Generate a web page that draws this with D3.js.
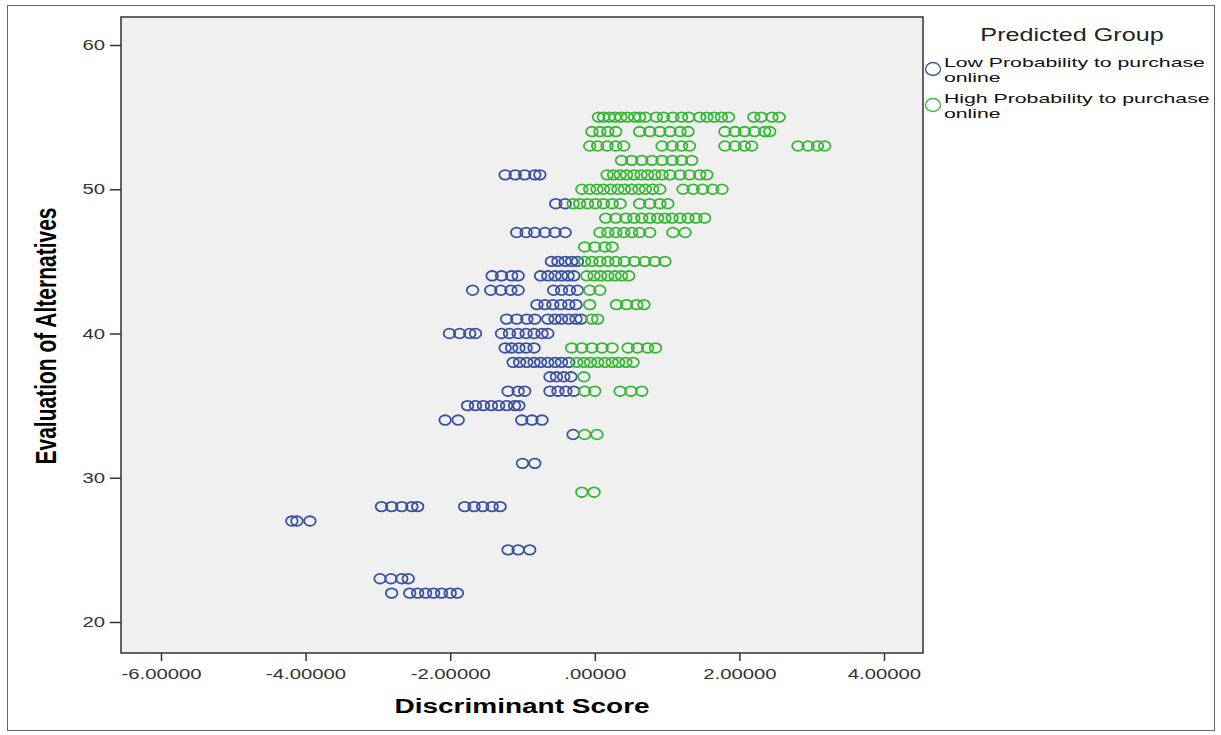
<!DOCTYPE html>
<html>
<head>
<meta charset="utf-8">
<script src="https://cdn.jsdelivr.net/npm/d3@7"></script>
<style>
  body { margin: 0; background: #fff; }
  svg { display: block; font-family: "Liberation Sans", Arial, sans-serif; }
</style>
</head>
<body>
<div id="chart"></div>
<script>
// rows of [evaluation, discriminant scores...]
const lowGroup = [
    [51, [-1.24, -1.1, -0.97, -0.83, -0.76]],
    [49, [-0.54, -0.41]],
    [47, [-1.08, -0.95, -0.83, -0.69, -0.55, -0.41]],
    [45, [-0.6, -0.51, -0.41, -0.32, -0.24]],
    [44, [-1.42, -1.29, -1.15, -1.06, -0.75, -0.65, -0.55, -0.46, -0.37, -0.29]],
    [43, [-1.69, -1.44, -1.3, -1.16, -1.06, -0.57, -0.46, -0.35, -0.24]],
    [42, [-0.8, -0.69, -0.58, -0.47, -0.36, -0.26]],
    [41, [-1.22, -1.08, -0.94, -0.83, -0.65, -0.55, -0.46, -0.36, -0.26, -0.19]],
    [40, [-2.01, -1.87, -1.73, -1.65, -1.29, -1.18, -1.06, -0.95, -0.84, -0.73, -0.65]],
    [39, [-1.24, -1.15, -1.05, -0.95, -0.84]],
    [38, [-1.13, -1.04, -0.94, -0.84, -0.75, -0.65, -0.55, -0.46, -0.36]],
    [37, [-0.62, -0.53, -0.43, -0.33]],
    [36, [-1.2, -1.06, -0.97, -0.62, -0.51, -0.4, -0.29]],
    [35, [-1.76, -1.65, -1.54, -1.43, -1.33, -1.22, -1.11, -1.05]],
    [34, [-2.07, -1.89, -1.01, -0.87, -0.73]],
    [33, [-0.3]],
    [31, [-1.0, -0.83]],
    [28, [-2.95, -2.81, -2.67, -2.53, -2.45, -1.8, -1.67, -1.55, -1.42, -1.31]],
    [27, [-4.19, -4.12, -3.94]],
    [25, [-1.2, -1.06, -0.9]],
    [23, [-2.97, -2.82, -2.67, -2.58]],
    [22, [-2.81, -2.56, -2.45, -2.34, -2.23, -2.12, -2.0, -1.9]]
];

const highGroup = [
    [55, [0.05, 0.12, 0.2, 0.28, 0.36, 0.45, 0.55, 0.62, 0.7, 0.85, 0.95, 1.08, 1.2, 1.3, 1.45, 1.55, 1.65, 1.75, 1.85, 2.2, 2.3, 2.45, 2.55]],
    [54, [-0.04, 0.07, 0.18, 0.29, 0.62, 0.76, 0.9, 1.04, 1.18, 1.29, 1.8, 1.94, 2.07, 2.21, 2.35, 2.42]],
    [53, [-0.07, 0.04, 0.17, 0.29, 0.4, 0.93, 1.07, 1.2, 1.31, 1.8, 1.94, 2.07, 2.17, 2.81, 2.95, 3.08, 3.18]],
    [52, [0.37, 0.51, 0.65, 0.79, 0.93, 1.07, 1.2, 1.34]],
    [51, [0.17, 0.26, 0.35, 0.44, 0.54, 0.64, 0.73, 0.83, 0.93, 1.04, 1.18, 1.31, 1.45, 1.55]],
    [50, [-0.18, -0.07, 0.03, 0.12, 0.22, 0.32, 0.41, 0.51, 0.61, 0.7, 0.8, 0.9, 1.22, 1.36, 1.49, 1.63, 1.76]],
    [49, [-0.3, -0.21, -0.1, 0.01, 0.12, 0.24, 0.35, 0.62, 0.76, 0.9, 1.01]],
    [48, [0.15, 0.29, 0.43, 0.54, 0.65, 0.76, 0.87, 0.97, 1.07, 1.18, 1.29, 1.4, 1.52]],
    [47, [0.07, 0.18, 0.29, 0.4, 0.51, 0.62, 0.76, 1.08, 1.25]],
    [46, [-0.14, 0, 0.14, 0.24]],
    [45, [-0.14, -0.04, 0.07, 0.18, 0.29, 0.41, 0.55, 0.69, 0.83, 0.97]],
    [44, [-0.11, -0.01, 0.08, 0.18, 0.28, 0.37, 0.47]],
    [43, [-0.07, 0.07]],
    [42, [-0.07, 0.3, 0.44, 0.58, 0.68]],
    [41, [-0.04, 0.04]],
    [39, [-0.32, -0.18, -0.04, 0.1, 0.24, 0.46, 0.59, 0.73, 0.84]],
    [38, [-0.25, -0.15, -0.06, 0.04, 0.14, 0.24, 0.33, 0.43, 0.53]],
    [37, [-0.15]],
    [36, [-0.14, 0, 0.35, 0.5, 0.65]],
    [33, [-0.14, 0.03]],
    [29, [-0.18, -0.01]]
];

const groupNames = [["Low Probability to purchase", "online"], ["High Probability to purchase", "online"]];
const xTicks = [-6, -4, -2, 0, 2, 4];
const xTickLabels = ["-6.00000", "-4.00000", "-2.00000", ".00000", "2.00000", "4.00000"];
const yTicks = [20, 30, 40, 50, 60];

const colors = ["#3a52a0", "#38b638"];
const width = 1221, height = 735;
const plot = { left: 121, right: 923, top: 17, bottom: 653 };
const SX = 1.4; // the picture is stretched sideways, so is the text

const svg = d3.select("#chart").append("svg")
    .attr("width", width)
    .attr("height", height);

svg.append("rect")
    .attr("x", 7.5).attr("y", 5.5)
    .attr("width", 1207).attr("height", 725)
    .attr("fill", "#fff").attr("stroke", "#666");

svg.append("rect")
    .attr("x", plot.left).attr("y", plot.top)
    .attr("width", plot.right - plot.left).attr("height", plot.bottom - plot.top)
    .attr("fill", "#f0f0f0").attr("stroke", "#333").attr("stroke-width", 1.5);

const x = d3.scaleLinear().domain([-6, 4]).range([161, 884]);
const y = d3.scaleLinear().domain([20, 60]).range([622, 45]);

// axes
const xAxis = svg.append("g")
    .attr("transform", `translate(0, ${plot.bottom})`)
    .call(d3.axisBottom(x).tickValues(xTicks).tickSize(8).tickFormat((d, i) => xTickLabels[i]));
const yAxis = svg.append("g")
    .attr("transform", `translate(${plot.left}, 0)`)
    .call(d3.axisLeft(y).tickValues(yTicks).tickSize(11).tickFormat(d3.format("d")));

[xAxis, yAxis].forEach(a => {
    a.select(".domain").remove();
    a.selectAll(".tick line").attr("stroke", "#333").attr("stroke-width", 1.5);
    a.selectAll(".tick text")
        .attr("fill", "#333")
        .style("font-family", "'Liberation Sans', Arial, sans-serif")
        .style("font-size", "14.5px");
});
xAxis.selectAll(".tick text").attr("dy", null).attr("y", 26).attr("transform", `scale(${SX},1)`);
yAxis.selectAll(".tick text").attr("x", -16 / SX).attr("transform", `scale(${SX},1)`);

// axis titles
svg.append("text")
    .attr("transform", `translate(${(plot.left + plot.right) / 2}, 713) scale(${SX},1)`)
    .attr("text-anchor", "middle")
    .style("font-weight", "bold").style("font-size", "20px")
    .text("Discriminant Score");

svg.append("text")
    .attr("transform", `translate(56, 336) scale(${SX},1) rotate(-90)`)
    .attr("text-anchor", "middle")
    .style("font-weight", "bold").style("font-size", "21px")
    .text("Evaluation of Alternatives");

// points
function flatten(rows) {
    const out = [];
    rows.forEach(([ev, scores]) => scores.forEach(s => out.push({ score: s, ev: ev })));
    return out;
}

[lowGroup, highGroup].forEach((rows, gi) => {
    svg.append("g").selectAll("ellipse")
        .data(flatten(rows)).enter().append("ellipse")
        .attr("cx", d => x(d.score))
        .attr("cy", d => y(d.ev))
        .attr("rx", 5.8).attr("ry", 4.8)
        .attr("fill", "none")
        .attr("stroke", colors[gi])
        .attr("stroke-width", 1.8);
});

// legend
const legend = svg.append("g");
legend.append("text")
    .attr("transform", `translate(1072, 41) scale(${SX},1)`)
    .attr("text-anchor", "middle")
    .attr("fill", "#222")
    .style("font-size", "18px")
    .text("Predicted Group");

groupNames.forEach((lines, i) => {
    const cy = 69 + i * 36;
    legend.append("ellipse")
        .attr("cx", 933).attr("cy", cy)
        .attr("rx", 7.5).attr("ry", 6.5)
        .attr("fill", "none").attr("stroke", colors[i]).attr("stroke-width", 1.3);
    lines.forEach((t, j) => {
        legend.append("text")
            .attr("transform", `translate(944, ${cy - 2 + j * 14.5}) scale(1.7,1)`)
            .attr("fill", "#111")
            .style("font-size", "12.5px")
            .text(t);
    });
});
</script>
</body>
</html>
